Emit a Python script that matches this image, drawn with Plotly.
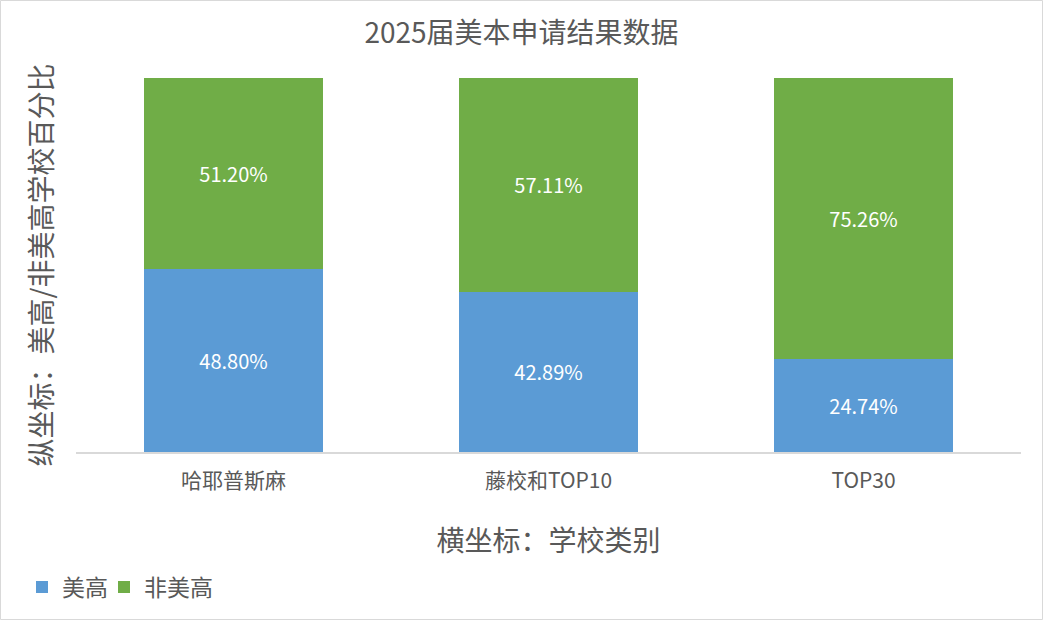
import plotly.graph_objects as go

categories = ["哈耶普斯麻", "藤校和TOP10", "TOP30"]
us_high = [48.80, 42.89, 24.74]
non_us_high = [51.20, 57.11, 75.26]
series_names = ["美高", "非美高"]

W, H = 1043, 620
ml, mr, mt, mb = 76, 22, 78, 168
pw, ph = W - ml - mr, H - mt - mb
font_family = "Noto Sans CJK SC, Noto Sans, sans-serif"
grey = "#595959"

fig = go.Figure()
fig.add_trace(go.Bar(
    x=categories, y=us_high, name=series_names[0], legend="legend",
    marker=dict(color="#5B9BD5", line=dict(width=0)),
    text=[f"{v:.2f}%" for v in us_high], textposition="inside",
    insidetextanchor="middle", textangle=0,
    textfont=dict(color="white", size=20, family=font_family),
))
fig.add_trace(go.Bar(
    x=categories, y=non_us_high, name=series_names[1], legend="legend2",
    marker=dict(color="#70AD47", line=dict(width=0)),
    text=[f"{v:.2f}%" for v in non_us_high], textposition="inside",
    insidetextanchor="middle", textangle=0,
    textfont=dict(color="white", size=20, family=font_family),
))

def px_x(p):
    return (p - ml) / pw

def px_y(p):
    return (H - mb - p) / ph

legend_common = dict(orientation="h", xanchor="left", y=px_y(587),
                     yanchor="middle",
                     font=dict(size=23, color=grey, family=font_family),
                     itemwidth=30, bgcolor="rgba(0,0,0,0)")

fig.update_layout(
    width=W, height=H,
    margin=dict(l=ml, r=mr, t=mt, b=mb, autoexpand=False),
    barmode="stack", bargap=0.43,
    plot_bgcolor="white", paper_bgcolor="white",
    font=dict(family=font_family, color=grey),
    title=dict(text="2025届美本申请结果数据", x=0.5, xanchor="center",
               y=1 - 33 / H, yanchor="middle",
               font=dict(size=28, color=grey, family=font_family)),
    xaxis=dict(
        showgrid=False, showline=True, linecolor="#D9D9D9", linewidth=2,
        ticks="", ticklabelstandoff=9,
        tickfont=dict(size=21, color=grey, family=font_family),
        title=dict(text="横坐标：学校类别", standoff=38,
                   font=dict(size=28, color=grey, family=font_family)),
    ),
    yaxis=dict(
        range=[0, 100], showgrid=False, showticklabels=False, ticks="",
        zeroline=False, showline=False,
        title=dict(text="纵坐标：美高/非美高学校百分比", standoff=14,
                   font=dict(size=28, color=grey, family=font_family)),
    ),
    legend=dict(x=px_x(22), **legend_common),
    legend2=dict(x=px_x(104), **legend_common),
    showlegend=True,
)

fig.add_shape(type="rect", xref="paper", yref="paper",
              x0=px_x(0.5), x1=px_x(W - 0.5), y0=px_y(H - 0.5), y1=px_y(0.5),
              line=dict(color="#D9D9D9", width=1), layer="below")

fig.write_html("out.html", config={"displayModeBar": False},
               post_script="document.body.style.margin='0';document.body.style.overflow='hidden';")
